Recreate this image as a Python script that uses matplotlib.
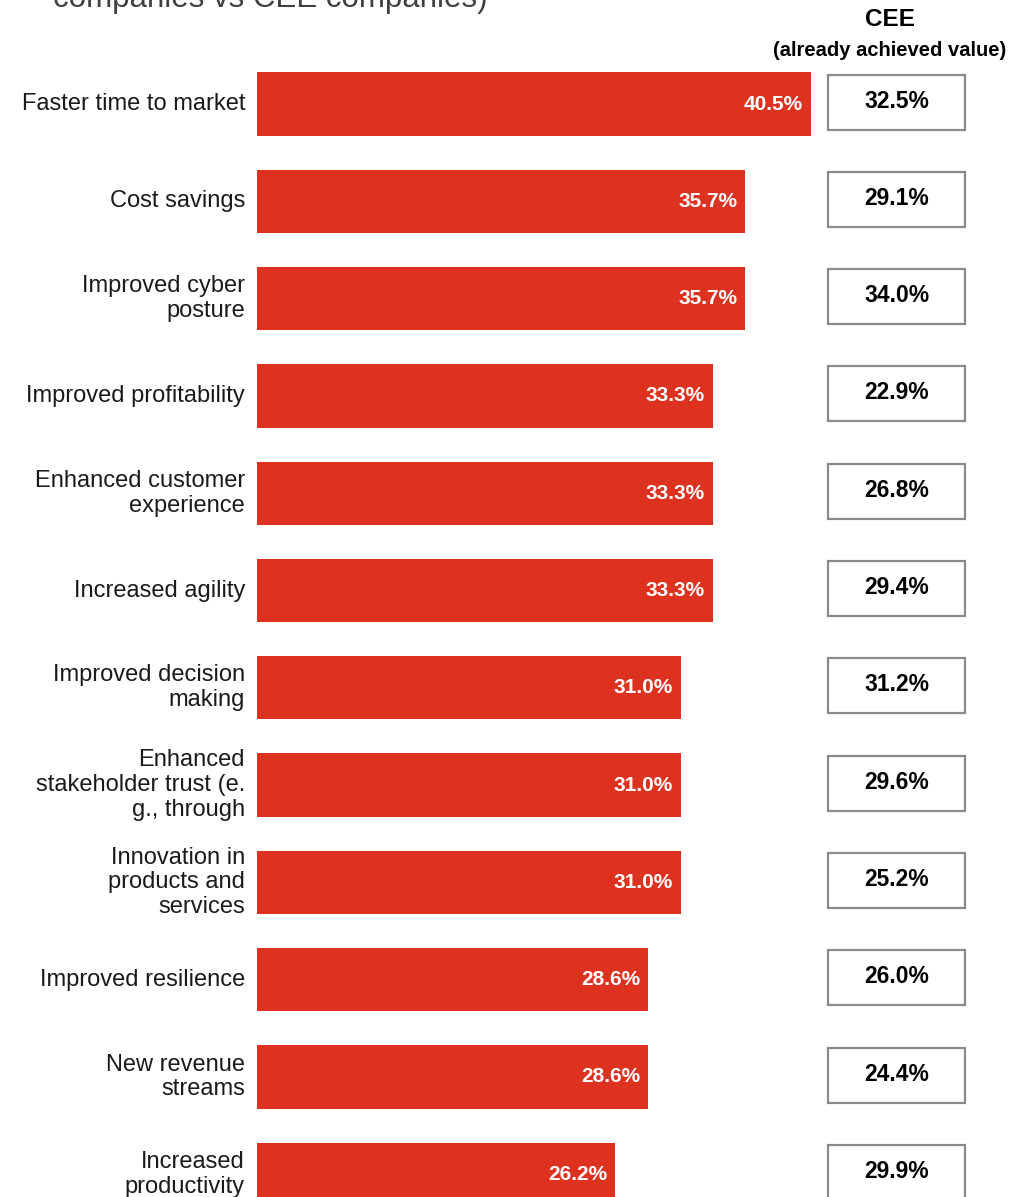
# benefits of transformation: share of companies, with CEE already-achieved values
import numpy as np
import matplotlib
matplotlib.use('Agg')
import matplotlib.pyplot as plt

plt.rcParams['font.family'] = ['Liberation Sans', 'DejaVu Sans']

# data
labels = ['Faster time to market',
          'Cost savings',
          'Improved cyber\nposture',
          'Improved profitability',
          'Enhanced customer\nexperience',
          'Increased agility',
          'Improved decision\nmaking',
          'Enhanced\nstakeholder trust (e.\ng., through',
          'Innovation in\nproducts and\nservices',
          'Improved resilience',
          'New revenue\nstreams',
          'Increased\nproductivity']
share = [40.5, 35.7, 35.7, 33.3, 33.3, 33.3, 31.0, 31.0, 31.0, 28.6, 28.6, 26.2]
cee = [32.5, 29.1, 34.0, 22.9, 26.8, 29.4, 31.2, 29.6, 25.2, 26.0, 24.4, 29.9]

# settings
W, H = 1026, 1197
x0 = 257.          # pixel of zero
pxper = 13.68      # pixels per percent
row0 = 104.        # first row centre, pixels
drow = 97.3        # row spacing, pixels
barcol = '#DE3220'

nrow = len(labels)
ypos = np.arange(nrow)

fig = plt.figure(figsize=(W/100., H/100.), dpi=100)
ax = fig.add_axes([x0/W, 0, 1 - x0/W, 1])
ax.set_xlim(0, (W - x0)/pxper)
ax.set_ylim((H - row0)/drow, -row0/drow)
ax.axis('off')

ax.barh(ypos, share, height=0.65, color=barcol)
for ii in range(nrow):
    ax.text(share[ii] - 0.6, ypos[ii], '%.1f%%' % share[ii], ha='right', va='center',
            color='white', fontsize=15, fontweight='bold')
    ax.text(-12./pxper, ypos[ii], labels[ii], ha='right', va='center',
            color='#1a1a1a', fontsize=17, linespacing=1.17)

# CEE boxes
bx0 = (828. - x0)/pxper
bw = (965. - 828.)/pxper
ax.barh(ypos - 0.02, [bw]*nrow, left=bx0, height=0.565, color='white',
        edgecolor='#8a8a8a', linewidth=1.6)
for ii in range(nrow):
    ax.text(bx0 + bw/2., ypos[ii] - 0.03, '%.1f%%' % cee[ii], ha='center', va='center',
            color='black', fontsize=16.5, fontweight='bold')

# headers
fig.text(890./W, 1 - 20./H, 'CEE', ha='center', va='center', fontsize=17.5, fontweight='bold')
fig.text(890./W, 1 - 51./H, '(already achieved value)', ha='center', va='center',
         fontsize=14.5, fontweight='bold')
fig.text(53./W, 1 - 7./H, 'companies vs CEE companies)', ha='left', va='baseline',
         fontsize=22.5, color='#404040')

fig.savefig('out.png', dpi=100, facecolor='white')
